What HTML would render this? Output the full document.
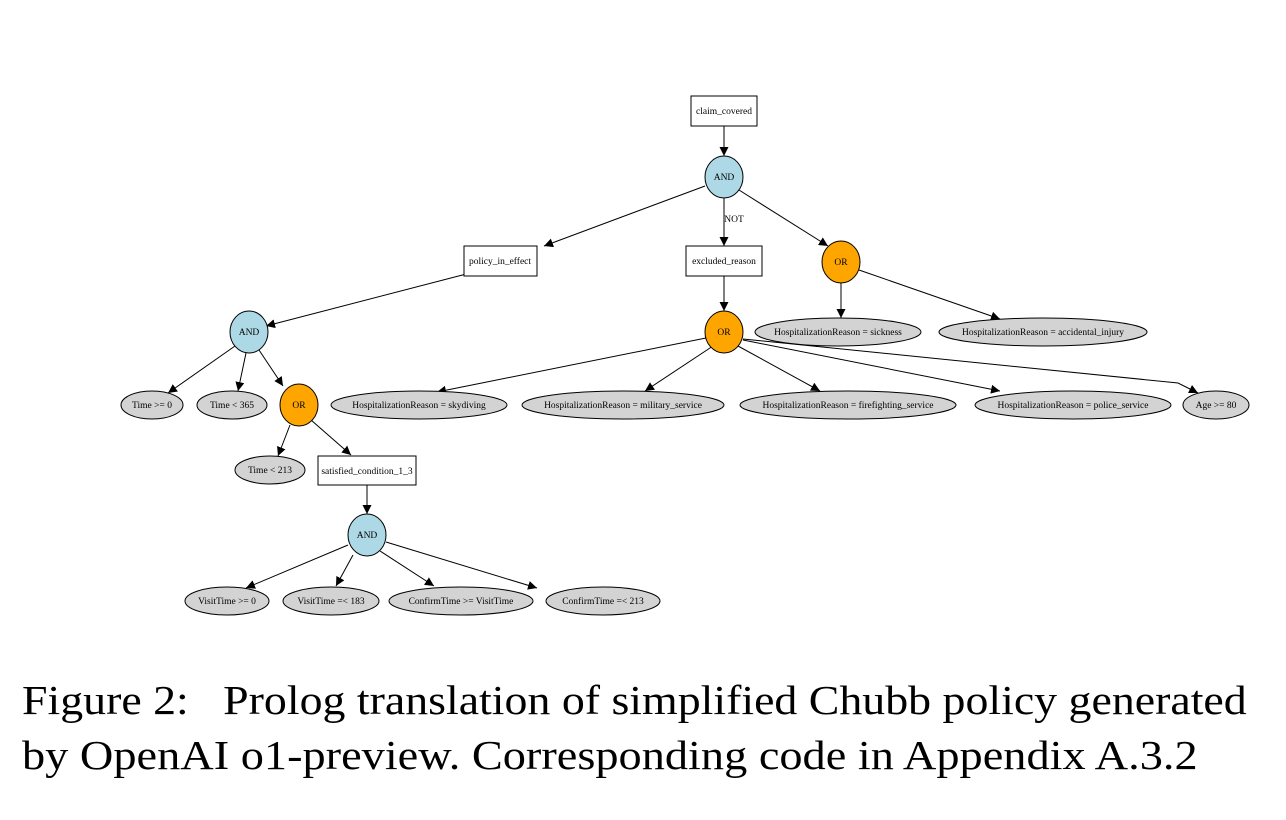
<!DOCTYPE html>
<html><head><meta charset="utf-8"><style>
html,body{margin:0;padding:0;background:#fff;}
body{width:1286px;height:820px;overflow:hidden;position:relative;}
svg{position:absolute;left:0;top:0;}
.cap{position:absolute;left:22px;font-family:"Liberation Serif",serif;font-size:41px;color:#000;white-space:nowrap;transform-origin:0 0;}
</style></head><body>
<svg width="1286" height="820" viewBox="0 0 1286 820" font-family="Liberation Serif, serif" font-size="9.5">
<defs><marker id="a" viewBox="0 0 10 10" refX="10" refY="5" markerWidth="9" markerHeight="9" markerUnits="userSpaceOnUse" orient="auto"><path d="M0,0L10,5L0,10z" fill="#000"/></marker></defs>
<g stroke="#000" stroke-width="1" fill="none" marker-end="url(#a)">
<line x1="724" y1="126" x2="724" y2="156"/>
<line x1="705" y1="186" x2="544" y2="246"/>
<line x1="724" y1="198" x2="724" y2="246"/>
<line x1="739" y1="190" x2="828" y2="246"/>
<line x1="474" y1="272" x2="266" y2="326"/>
<line x1="724" y1="276" x2="724" y2="311"/>
<line x1="841" y1="283" x2="841" y2="318"/>
<line x1="859" y1="270" x2="1000" y2="319"/>
<line x1="235" y1="346" x2="168" y2="393"/>
<line x1="246" y1="353" x2="238" y2="391"/>
<line x1="259" y1="350" x2="283" y2="386"/>
<line x1="290" y1="425" x2="278" y2="456"/>
<line x1="311" y1="420" x2="351" y2="455"/>
<line x1="706" y1="338" x2="437" y2="392"/>
<line x1="713" y1="346" x2="645" y2="391"/>
<line x1="738" y1="346" x2="820" y2="391"/>
<line x1="743" y1="340" x2="1000" y2="391"/>
<polyline points="743,339 1178,383 1198,393"/>
<line x1="367" y1="485" x2="367" y2="514"/>
<line x1="348" y1="545" x2="246" y2="588"/>
<line x1="353" y1="555" x2="336" y2="586"/>
<line x1="380" y1="551" x2="434" y2="586"/>
<line x1="386" y1="542" x2="537" y2="588"/>
</g>
<g stroke="#000" stroke-width="1">
<rect x="691" y="96" width="66" height="30" fill="#fff"/>
<rect x="464" y="246" width="73" height="30" fill="#fff"/>
<rect x="686" y="246" width="76" height="30" fill="#fff"/>
<rect x="318" y="456" width="98" height="29" fill="#fff"/>
<ellipse cx="724" cy="177" rx="19" ry="21" fill="#add8e6"/>
<ellipse cx="249" cy="332" rx="19" ry="21" fill="#add8e6"/>
<ellipse cx="367" cy="535" rx="19" ry="21" fill="#add8e6"/>
<ellipse cx="841" cy="262" rx="19" ry="21" fill="#ffa500"/>
<ellipse cx="724" cy="332" rx="19" ry="21" fill="#ffa500"/>
<ellipse cx="299" cy="405" rx="19" ry="21" fill="#ffa500"/>
<g fill="#d3d3d3">
<ellipse cx="838" cy="332" rx="83" ry="14"/>
<ellipse cx="1043" cy="332" rx="104" ry="14"/>
<ellipse cx="152" cy="405" rx="31" ry="14"/>
<ellipse cx="232" cy="405" rx="35" ry="14"/>
<ellipse cx="419" cy="405" rx="88" ry="14"/>
<ellipse cx="623" cy="405" rx="101" ry="14"/>
<ellipse cx="848" cy="405" rx="108" ry="14"/>
<ellipse cx="1073" cy="405" rx="98" ry="14"/>
<ellipse cx="1216" cy="405" rx="33" ry="14"/>
<ellipse cx="270" cy="470" rx="35" ry="14"/>
<ellipse cx="227" cy="601" rx="42" ry="14"/>
<ellipse cx="331" cy="601" rx="48" ry="14"/>
<ellipse cx="461" cy="601" rx="72" ry="14"/>
<ellipse cx="603" cy="601" rx="57" ry="14"/>
</g></g>
<g text-anchor="middle" fill="#000">
<text x="724" y="114">claim_covered</text>
<text x="500" y="264">policy_in_effect</text>
<text x="724" y="264">excluded_reason</text>
<text x="367" y="474">satisfied_condition_1_3</text>
<text x="724" y="180">AND</text>
<text x="249" y="335">AND</text>
<text x="367" y="538">AND</text>
<text x="841" y="265">OR</text>
<text x="724" y="335">OR</text>
<text x="299" y="408">OR</text>
<text x="734" y="222">NOT</text>
<text x="838" y="335">HospitalizationReason = sickness</text>
<text x="1043" y="335">HospitalizationReason = accidental_injury</text>
<text x="152" y="408">Time &gt;= 0</text>
<text x="232" y="408">Time &lt; 365</text>
<text x="419" y="408">HospitalizationReason = skydiving</text>
<text x="623" y="408">HospitalizationReason = military_service</text>
<text x="848" y="408">HospitalizationReason = firefighting_service</text>
<text x="1073" y="408">HospitalizationReason = police_service</text>
<text x="1216" y="408">Age &gt;= 80</text>
<text x="270" y="473">Time &lt; 213</text>
<text x="227" y="604">VisitTime &gt;= 0</text>
<text x="331" y="604">VisitTime =&lt; 183</text>
<text x="461" y="604">ConfirmTime &gt;= VisitTime</text>
<text x="603" y="604">ConfirmTime =&lt; 213</text>
</g>
</svg>
<div class="cap" style="top:676px;transform:scaleX(1.118);">Figure 2:&nbsp;&nbsp; Prolog translation of simplified Chubb policy generated</div>
<div class="cap" style="top:731px;transform:scaleX(1.13);">by OpenAI o1-preview. Corresponding code in Appendix A.3.2</div>
</body></html>
